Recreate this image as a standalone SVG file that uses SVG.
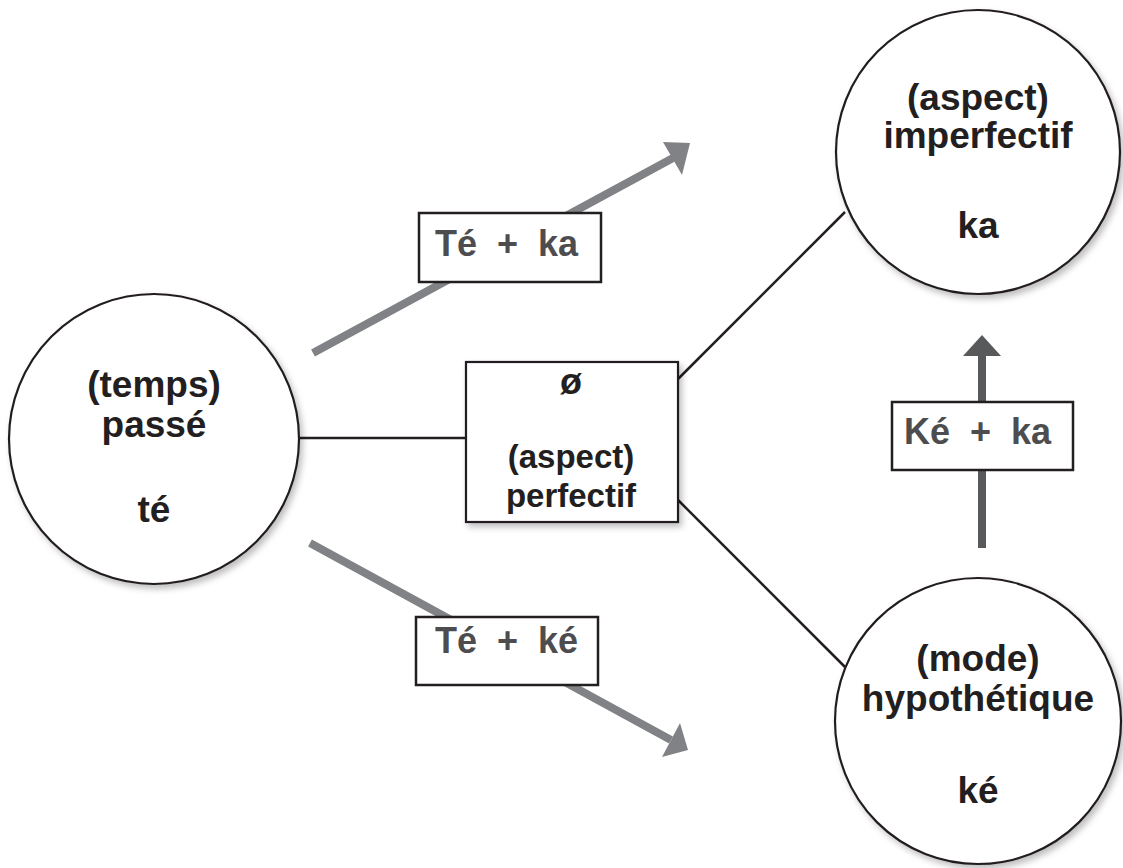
<svg xmlns="http://www.w3.org/2000/svg" width="1123" height="868" viewBox="0 0 1123 868">
<defs>
<style>
.node{fill:#fff;stroke:#231f20;stroke-width:2.2}
.lbl{fill:#fff;stroke:#231f20;stroke-width:2.5}
.t{font-family:"Liberation Sans",Arial,sans-serif;font-weight:bold;fill:#231f20;text-anchor:middle}
.big{font-size:37px}
.mid{font-size:33px}
.lt{font-family:"Liberation Sans",Arial,sans-serif;font-weight:bold;font-size:36px;fill:#4d4d4f;white-space:pre}
.conn{stroke:#231f20;stroke-width:2.5;fill:none}
.ga{stroke:#808285;stroke-width:8;fill:none}
.gh{fill:#808285}
.da{stroke:#58595b;stroke-width:8;fill:none}
.dh{fill:#58595b}
</style>
<filter id="sh" x="-10%" y="-10%" width="130%" height="130%">
<feDropShadow dx="3" dy="4" stdDeviation="3" flood-color="#000" flood-opacity="0.25"/>
</filter>
</defs>
<rect width="1123" height="868" fill="#fff"/>
<g id="connectors">
<line class="conn" x1="300" y1="438" x2="466" y2="438"/>
<line class="conn" x1="678" y1="379" x2="845" y2="212"/>
<line class="conn" x1="678" y1="500" x2="845" y2="667"/>
<line class="ga" x1="313" y1="353" x2="673" y2="158"/>
<polygon class="gh" points="690,143 663,142 682,175"/>
<line class="ga" x1="310" y1="543" x2="671" y2="740"/>
<polygon class="gh" points="688,750 680,723 662,757"/>
<line class="da" x1="982" y1="548" x2="982" y2="355"/>
<polygon class="dh" points="982,335 963,356 1001,356"/>
</g>
<g id="node-passe">
<circle class="node" cx="154" cy="439" r="145" filter="url(#sh)"/>
<text class="t big" x="154" y="397">(temps)</text>
<text class="t big" x="154" y="437">passé</text>
<text class="t big" x="154" y="522">té</text>
</g>
<g id="node-perfectif">
<rect class="node" x="466" y="362" width="212" height="160" stroke-width="2.5" filter="url(#sh)"/>
<text class="t" x="571" y="394" font-size="36">ø</text>
<text class="t mid" x="571" y="468">(aspect)</text>
<text class="t mid" x="571" y="507">perfectif</text>
</g>
<g id="node-imperfectif">
<circle class="node" cx="978" cy="152" r="142" filter="url(#sh)"/>
<text class="t big" x="978" y="110">(aspect)</text>
<text class="t big" x="978" y="148">imperfectif</text>
<text class="t big" x="978" y="238">ka</text>
</g>
<g id="node-hypothetique">
<circle class="node" cx="978" cy="721" r="143" filter="url(#sh)"/>
<text class="t big" x="978" y="671">(mode)</text>
<text class="t big" x="978" y="711">hypothétique</text>
<text class="t big" x="978" y="803">ké</text>
</g>
<g id="label-te-ka">
<rect class="lbl" x="419" y="213" width="182" height="69"/>
<text class="lt" x="435" y="256" xml:space="preserve">Té  +  ka</text>
</g>
<g id="label-te-ke">
<rect class="lbl" x="416" y="617" width="182" height="68"/>
<text class="lt" x="435" y="653" xml:space="preserve">Té  +  ké</text>
</g>
<g id="label-ke-ka">
<rect class="lbl" x="892" y="402" width="181" height="68"/>
<text class="lt" x="904" y="444" xml:space="preserve">Ké  +  ka</text>
</g>
</svg>
